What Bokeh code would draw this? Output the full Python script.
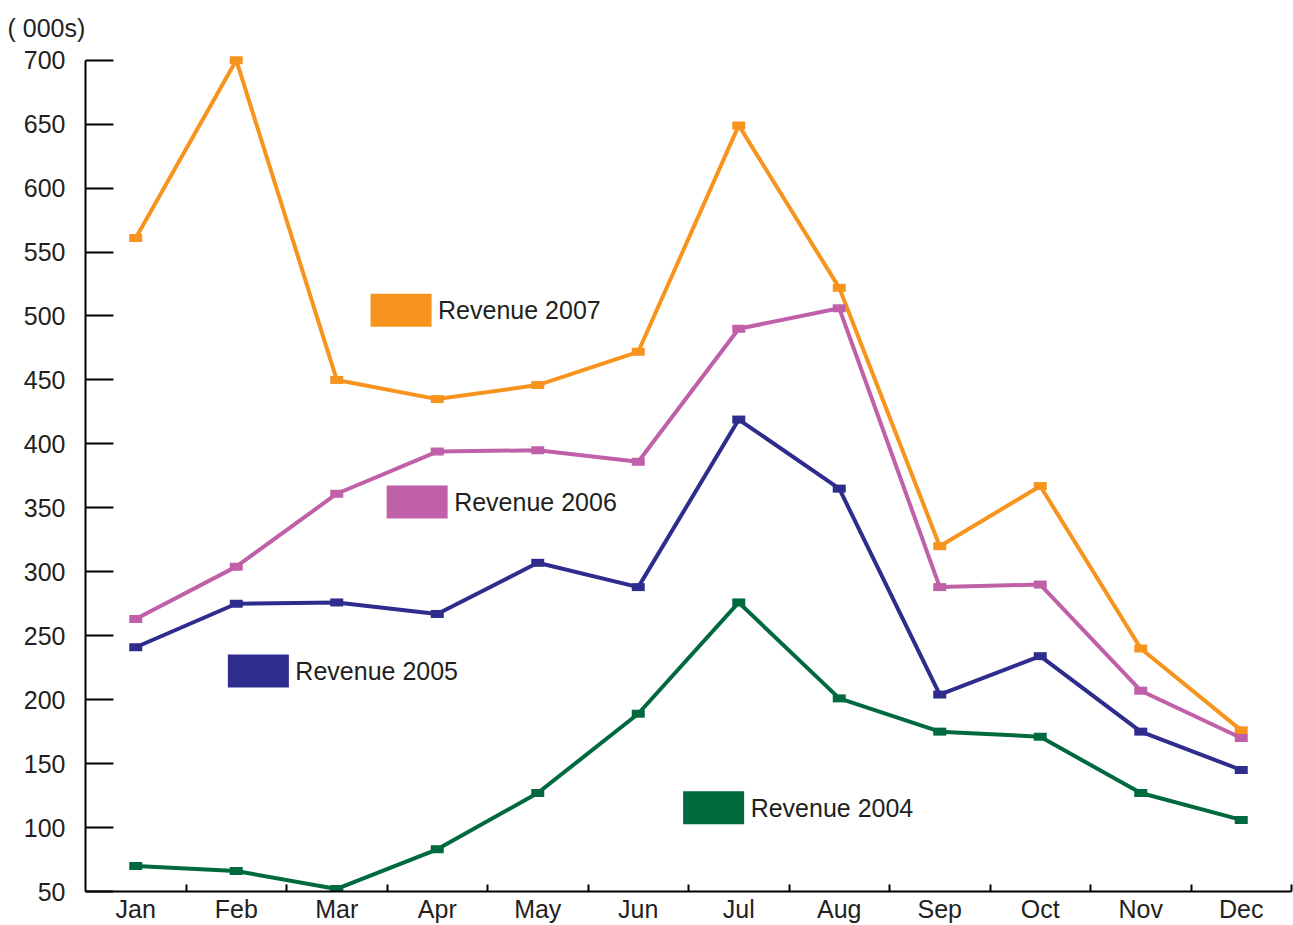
from bokeh.plotting import figure
from bokeh.models import Range1d, FixedTicker, ColumnDataSource
from bokeh.core.properties import value
from bokeh.embed import file_html
from bokeh.resources import INLINE

months = ["Jan", "Feb", "Mar", "Apr", "May", "Jun", "Jul", "Aug", "Sep", "Oct", "Nov", "Dec"]
rev_2007 = [561, 700, 450, 435, 446, 472, 649, 522, 320, 367, 240, 176]
rev_2006 = [263, 304, 361, 394, 395, 386, 490, 506, 288, 290, 207, 170]
rev_2005 = [241, 275, 276, 267, 307, 288, 419, 365, 204, 234, 175, 145]
rev_2004 = [70, 66, 52, 83, 127, 189, 276, 201, 175, 171, 127, 106]
y_ticks = [50, 100, 150, 200, 250, 300, 350, 400, 450, 500, 550, 600, 650, 700]
series_names = ["Revenue 2007", "Revenue 2006", "Revenue 2005", "Revenue 2004"]
unit_label = "( 000s)"

colors = ["#F7941D", "#C060A8", "#2E2C8C", "#006A3E"]
series = [rev_2007, rev_2006, rev_2005, rev_2004]
# legend box centres (data coordinates)
legend_pos = [(2.64, 504.5), (2.80, 354.5), (1.22, 222.5), (5.75, 115.5)]

FONT = "Liberation Sans"
TXT = "#231F20"
FS = "25px"

xs = list(range(len(months)))

p = figure(width=1293, height=925, output_backend="svg", toolbar_location=None,
           x_range=Range1d(-0.5, len(months) - 0.5), y_range=Range1d(50, 706),
           min_border_left=85, min_border_right=2, min_border_top=52, min_border_bottom=33,
           title=unit_label)
p.title.align = "left"
p.title.offset = -78
p.title.standoff = 22
p.title.text_font = FONT
p.title.text_font_size = FS
p.title.text_font_style = "normal"
p.title.text_color = TXT

p.outline_line_color = None
p.grid.grid_line_color = None
p.background_fill_color = "white"
p.border_fill_color = "white"

# y axis
yax = p.yaxis[0]
yax.ticker = FixedTicker(ticks=y_ticks)
yax.bounds = (50, 700)
yax.axis_line_width = 2
yax.axis_line_color = "black"
yax.major_tick_in = 28
yax.major_tick_out = 0
yax.major_tick_line_width = 2
yax.major_tick_line_color = "black"
yax.minor_tick_line_color = None
yax.major_label_standoff = 20
yax.major_label_text_font = FONT
yax.major_label_text_font_size = FS
yax.major_label_text_color = TXT

# x axis
xax = p.xaxis[0]
xax.ticker = FixedTicker(ticks=xs, minor_ticks=[i + 0.5 for i in xs])
xax.major_label_overrides = {i: m for i, m in zip(xs, months)}
xax.axis_line_width = 2
xax.axis_line_color = "black"
xax.major_tick_in = 0
xax.major_tick_out = 0
xax.minor_tick_in = 7
xax.minor_tick_out = 0
xax.minor_tick_line_width = 2
xax.minor_tick_line_color = "black"
xax.major_label_standoff = 3
xax.major_label_text_font = FONT
xax.major_label_text_font_size = FS
xax.major_label_text_color = TXT

for vals, col in zip(series, colors):
    src = ColumnDataSource(dict(x=xs, y=vals))
    p.line("x", "y", source=src, line_color=col, line_width=4)
    p.rect("x", "y", source=src, width=13, height=8, width_units="screen",
           height_units="screen", fill_color=col, line_color=None)

lsrc = ColumnDataSource(dict(x=[a for a, b in legend_pos], y=[b for a, b in legend_pos],
                             name=series_names, color=colors))
p.rect("x", "y", source=lsrc, width=61, height=33, width_units="screen",
       height_units="screen", fill_color="color", line_color=None)
p.text("x", "y", text="name", source=lsrc, x_offset=37, text_baseline="middle",
       text_align="left", text_font=value(FONT), text_font_size=FS, text_color=TXT)

open("out.html", "w").write(file_html(p, INLINE))
